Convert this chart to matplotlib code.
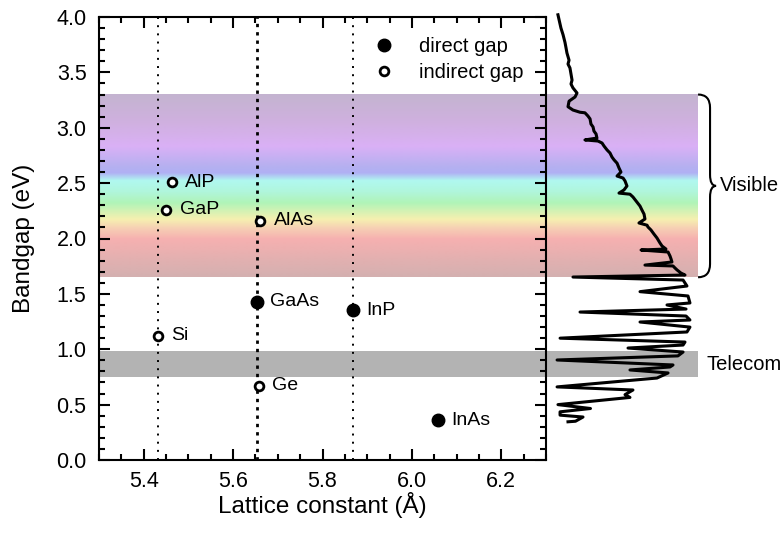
import numpy as np
import matplotlib
matplotlib.use("Agg")
import matplotlib.pyplot as plt
from matplotlib.colors import LinearSegmentedColormap
from matplotlib.lines import Line2D
from matplotlib.path import Path
from matplotlib.patches import PathPatch

plt.rcParams["font.family"] = ["Liberation Sans", "DejaVu Sans"]

# semiconductores: constante de red (Å) y bandgap (eV)
NOMBRES   = ["Si", "Ge", "GaAs", "InP", "InAs", "AlP", "GaP", "AlAs"]
RED       = [5.431, 5.658, 5.653, 5.869, 6.058, 5.4635, 5.451, 5.661]
GAP       = [1.12, 0.67, 1.43, 1.35, 0.36, 2.51, 2.26, 2.16]
DIRECTO   = [False, False, True, True, True, False, False, False]
LINEAS_V  = [5.431, 5.653, 5.869]

# bandas de energía (eV)
VISIBLE   = (1.65, 3.30)
TELECOM   = (0.75, 0.98)
ARCOIRIS_E = [1.65, 1.80, 1.99, 2.09, 2.17, 2.32, 2.42, 2.52, 2.59, 2.65, 2.83, 3.04, 3.30]
ARCOIRIS_C = ["#d4b0b0", "#e2b0b0", "#f6b0b0", "#f6d0b4", "#f6f0b0", "#b0f4b8",
              "#b0f6dc", "#b0f8f0", "#b0b0f4", "#b6b0f0", "#dab0f6", "#d0b0e0", "#c4b4d0"]

# espectro (intensidad normalizada vs energía)
ESP_E = [4.02, 3.90, 3.84, 3.77, 3.72, 3.675, 3.61, 3.575, 3.54, 3.485, 3.43, 3.395,
         3.36, 3.314, 3.278, 3.24, 3.19, 3.16, 3.14, 3.135, 3.106, 3.08, 3.034, 3.007,
         2.97, 2.944, 2.907, 2.89, 2.88, 2.862, 2.835, 2.80, 2.772, 2.736, 2.71, 2.68,
         2.637, 2.60, 2.564, 2.546, 2.52, 2.474, 2.438, 2.41, 2.40, 2.375, 2.34, 2.293,
         2.257, 2.22, 2.176, 2.14, 2.12, 2.104, 2.077, 2.04, 2.005, 1.96, 1.932, 1.905,
         1.896, 1.878, 1.842, 1.815, 1.788, 1.76, 1.752, 1.734, 1.716, 1.688, 1.67,
         1.652, 1.625, 1.571, 1.52, 1.481, 1.418, 1.40, 1.363, 1.336, 1.30, 1.264,
         1.246, 1.20, 1.156, 1.10, 1.065, 1.038, 1.011, 0.975, 0.94, 0.903, 0.858,
         0.84, 0.813, 0.786, 0.74, 0.66, 0.632, 0.59, 0.565, 0.50, 0.465, 0.435,
         0.405, 0.388, 0.35, 0.345]
ESP_I = [0.053, 0.073, 0.087, 0.10, 0.107, 0.113, 0.127, 0.12, 0.133, 0.14, 0.147, 0.14,
         0.153, 0.18, 0.167, 0.127, 0.12, 0.153, 0.20, 0.233, 0.253, 0.267, 0.273, 0.287,
         0.293, 0.307, 0.313, 0.233, 0.32, 0.347, 0.36, 0.38, 0.40, 0.413, 0.427, 0.447,
         0.46, 0.473, 0.447, 0.487, 0.50, 0.513, 0.493, 0.46, 0.533, 0.553, 0.573, 0.60,
         0.613, 0.627, 0.633, 0.593, 0.647, 0.653, 0.673, 0.693, 0.713, 0.733, 0.747, 0.773,
         0.607, 0.787, 0.80, 0.807, 0.813, 0.633, 0.82, 0.833, 0.847, 0.873, 0.90,
         0.153, 0.887, 0.913, 0.60, 0.92, 0.933, 0.78, 0.907, 0.20, 0.907, 0.933,
         0.60, 0.933, 0.913, 0.067, 0.90, 0.887, 0.52, 0.887, 0.853, 0.047, 0.82,
         0.80, 0.533, 0.787, 0.713, 0.047, 0.553, 0.50, 0.533, 0.053, 0.27, 0.067,
         0.067, 0.22, 0.17, 0.12]

W, H = 783, 539
fig = plt.figure(figsize=(W / 100, H / 100), dpi=100)
fig.patch.set_facecolor("white")

abajo, alto = 1 - 460 / H, 443 / H

# --- bandas de fondo (se extienden hasta el espectro) ---
ax_b = fig.add_axes([99 / W, abajo, (698 - 99) / W, alto], zorder=0)
cmap = LinearSegmentedColormap.from_list(
    "arcoiris",
    [((e - VISIBLE[0]) / (VISIBLE[1] - VISIBLE[0]), c) for e, c in zip(ARCOIRIS_E, ARCOIRIS_C)])
grad = np.linspace(0, 1, 256).reshape(-1, 1)
ax_b.imshow(grad, extent=[0, 1, VISIBLE[0], VISIBLE[1]], origin="lower",
            aspect="auto", cmap=cmap, interpolation="bilinear")
ax_b.axhspan(*TELECOM, color="#b3b3b3", lw=0)
ax_b.set_xlim(0, 1)
ax_b.set_ylim(0, 4)
ax_b.axis("off")

# --- panel principal ---
ax = fig.add_axes([99 / W, abajo, 447 / W, alto], zorder=1)
ax.patch.set_alpha(0)

for i, xv in enumerate(LINEAS_V):
    if i == 1:
        ax.axvline(xv, color="black", lw=2.0, dashes=(1.2, 1.8), zorder=1)
    else:
        ax.axvline(xv, color="black", lw=1.4, dashes=(1, 3.2), zorder=1)

for nom, a, g, d in zip(NOMBRES, RED, GAP, DIRECTO):
    if d:
        ax.plot(a, g, "o", ms=9, color="black", zorder=3)
    else:
        ax.plot(a, g, "o", ms=6.3, mfc="white", mec="black", mew=2, zorder=3)
    ax.annotate(nom, (a, g), xytext=(9.5, 0), textcoords="offset points",
                ha="left", va="center", fontsize=14)

ax.set_xlim(5.3, 6.3)
ax.set_ylim(0, 4)
ax.set_xticks(np.arange(5.4, 6.21, 0.2))
ax.set_xticks(np.arange(5.3, 6.31, 0.05), minor=True)
ax.set_yticks(np.arange(0, 4.01, 0.5))
ax.set_yticks(np.arange(0, 4.01, 0.1), minor=True)
ax.xaxis.set_major_formatter(plt.FormatStrFormatter("%.1f"))
ax.yaxis.set_major_formatter(plt.FormatStrFormatter("%.1f"))
ax.tick_params(which="both", direction="in", top=True, right=True, width=1.5,
               labelsize=15.5)
ax.tick_params(which="major", length=8)
ax.tick_params(which="minor", length=4)
ax.tick_params(axis="y", which="major", pad=9)
ax.tick_params(axis="x", which="major", pad=8)
for s in ax.spines.values():
    s.set_linewidth(1.5)
ax.set_xlabel("Lattice constant (Å)", fontsize=17.5, labelpad=0)
ax.set_ylabel("Bandgap (eV)", fontsize=17.5, labelpad=15)

leyenda = [
    Line2D([], [], ls="none", marker="o", ms=9, color="black", label="direct gap"),
    Line2D([], [], ls="none", marker="o", ms=6.3, mfc="white", mec="black", mew=2,
           label="indirect gap"),
]
ax.legend(handles=leyenda, loc="upper right", bbox_to_anchor=(0.99, 0.995),
          frameon=False, fontsize=14.5, handletextpad=1.0, labelspacing=0.35,
          handlelength=1.5)

# --- espectro a la derecha ---
ax_s = fig.add_axes([550 / W, abajo, 150 / W, alto], zorder=2)
ax_s.patch.set_alpha(0)
ax_s.plot(ESP_I, ESP_E, color="black", lw=2.2, solid_joinstyle="round",
          clip_on=False)
ax_s.set_xlim(0, 1)
ax_s.set_ylim(0, 4)
ax_s.axis("off")

# llave del visible
y0, y1 = VISIBLE
ym = (y0 + y1) / 2
xa, xv, xt = 0.987, 1.067, 1.107
verts = [(xa, y1), (xv, y1), (xv, y1 - 0.12), (xv, ym + 0.10),
         (xv, ym), (xt, ym), (xv, ym), (xv, ym - 0.10), (xv, y0 + 0.12),
         (xv, y0), (xa, y0)]
codes = [Path.MOVETO, Path.CURVE3, Path.CURVE3, Path.LINETO,
         Path.CURVE3, Path.CURVE3, Path.CURVE3, Path.CURVE3, Path.LINETO,
         Path.CURVE3, Path.CURVE3]
ax_s.add_patch(PathPatch(Path(verts, codes), fc="none", ec="black", lw=1.5,
                         clip_on=False))
ax_s.text(1.13, ym, "Visible", ha="left", va="center", fontsize=14.5, clip_on=False)
ax_s.text(1.044, sum(TELECOM) / 2, "Telecom", ha="left", va="center", fontsize=14.5,
          clip_on=False)

fig.savefig("out.png", dpi=100, facecolor="white")
